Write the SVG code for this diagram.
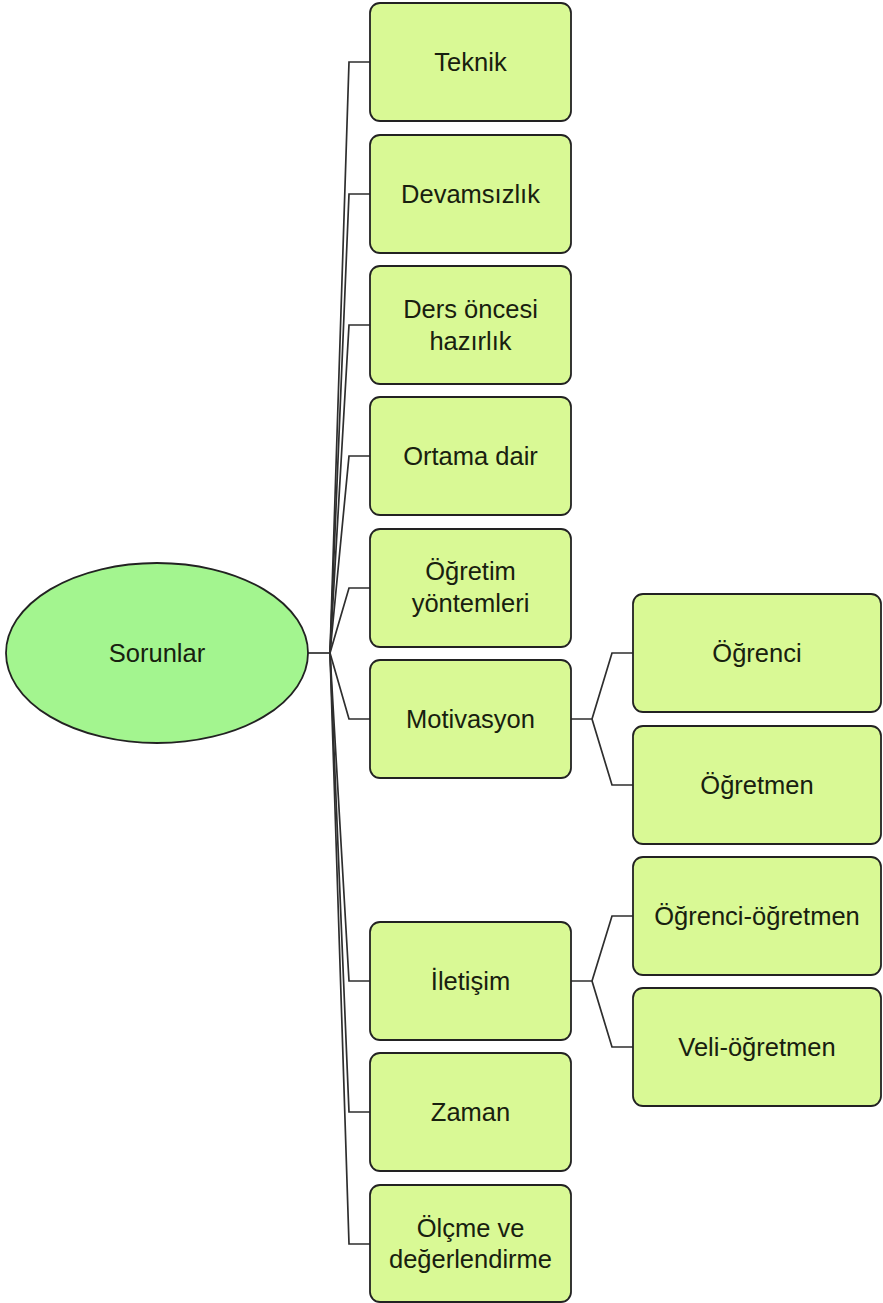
<svg xmlns="http://www.w3.org/2000/svg" width="883" height="1303" viewBox="0 0 883 1303">
<style>
.box{fill:#d9f995;stroke:#222;stroke-width:1.8}
.root{fill:#a3f58f;stroke:#222;stroke-width:1.8}
.t{font-family:"Liberation Sans",Arial,sans-serif;font-size:25.5px;fill:#18200f;text-anchor:middle}
.c{fill:none;stroke:#2e2e2e;stroke-width:1.7}
</style>
<rect width="883" height="1303" fill="#ffffff"/>
<g id="connectors">
<path class="c" d="M308,653 H330"/>
<path class="c" d="M330,653 L349,62 H370"/>
<path class="c" d="M330,653 L349,194 H370"/>
<path class="c" d="M330,653 L349,325 H370"/>
<path class="c" d="M330,653 L349,456 H370"/>
<path class="c" d="M330,653 L349,588 H370"/>
<path class="c" d="M330,653 L349,719 H370"/>
<path class="c" d="M330,653 L349,981 H370"/>
<path class="c" d="M330,653 L349,1112 H370"/>
<path class="c" d="M330,653 L349,1244 H370"/>
<path class="c" d="M571,719 H592 M592,719 L612,653 H633 M592,719 L612,785 H633"/>
<path class="c" d="M571,981 H592 M592,981 L612,916 H633 M592,981 L612,1047 H633"/>
</g>
<g id="n-sorunlar"><ellipse class="root" cx="157" cy="653" rx="151" ry="90"/><text class="t" x="157" y="662">Sorunlar</text></g>
<g id="n-teknik"><rect class="box" x="370" y="3" width="201" height="118" rx="10"/><text class="t" x="470.5" y="71">Teknik</text></g>
<g id="n-devamsizlik"><rect class="box" x="370" y="135" width="201" height="118" rx="10"/><text class="t" x="470.5" y="203">Devamsızlık</text></g>
<g id="n-ders"><rect class="box" x="370" y="266" width="201" height="118" rx="10"/><text class="t" x="470.5" y="318">Ders öncesi</text><text class="t" x="470.5" y="350">hazırlık</text></g>
<g id="n-ortama"><rect class="box" x="370" y="397" width="201" height="118" rx="10"/><text class="t" x="470.5" y="465">Ortama dair</text></g>
<g id="n-ogretim"><rect class="box" x="370" y="529" width="201" height="118" rx="10"/><text class="t" x="470.5" y="580">Öğretim</text><text class="t" x="470.5" y="612">yöntemleri</text></g>
<g id="n-motivasyon"><rect class="box" x="370" y="660" width="201" height="118" rx="10"/><text class="t" x="470.5" y="728">Motivasyon</text></g>
<g id="n-iletisim"><rect class="box" x="370" y="922" width="201" height="118" rx="10"/><text class="t" x="470.5" y="990">İletişim</text></g>
<g id="n-zaman"><rect class="box" x="370" y="1053" width="201" height="118" rx="10"/><text class="t" x="470.5" y="1121">Zaman</text></g>
<g id="n-olcme"><rect class="box" x="370" y="1185" width="201" height="117" rx="10"/><text class="t" x="470.5" y="1237">Ölçme ve</text><text class="t" x="470.5" y="1268">değerlendirme</text></g>
<g id="n-ogrenci"><rect class="box" x="633" y="594" width="248" height="118" rx="10"/><text class="t" x="757" y="662">Öğrenci</text></g>
<g id="n-ogretmen"><rect class="box" x="633" y="726" width="248" height="118" rx="10"/><text class="t" x="757" y="794">Öğretmen</text></g>
<g id="n-ogrenci-ogretmen"><rect class="box" x="633" y="857" width="248" height="118" rx="10"/><text class="t" x="757" y="925">Öğrenci-öğretmen</text></g>
<g id="n-veli-ogretmen"><rect class="box" x="633" y="988" width="248" height="118" rx="10"/><text class="t" x="757" y="1056">Veli-öğretmen</text></g>
</svg>
